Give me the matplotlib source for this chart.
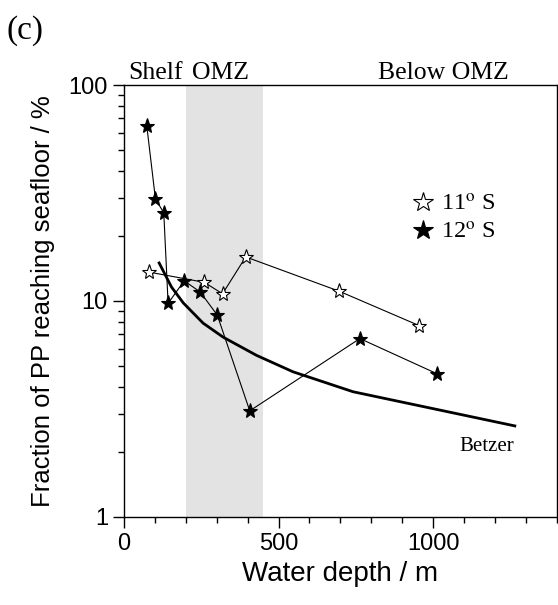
import matplotlib
matplotlib.use('Agg')
import matplotlib.pyplot as plt
from matplotlib.ticker import MultipleLocator, LogLocator, NullFormatter, FixedFormatter, FixedLocator

# data
depth_11S = [82, 260, 319, 394, 696, 954]
frac_11S = [13.6, 12.2, 10.8, 16.0, 11.1, 7.7]

depth_12S = [74, 102, 129, 143, 195, 247, 302, 407, 763, 1013]
frac_12S = [64.8, 29.7, 25.6, 9.75, 12.4, 11.0, 8.6, 3.1, 6.7, 4.6]

depth_betzer = [114, 154, 192, 256, 321, 429, 547, 741, 1264]
frac_betzer = [15.0, 11.6, 9.8, 7.9, 6.8, 5.6, 4.7, 3.8, 2.64]

omz_band = (200, 450)

serif = 'Liberation Serif'
sans = 'Liberation Sans'
plt.rcParams['font.family'] = sans
plt.rcParams['mathtext.fontset'] = 'stix'

fig = plt.figure(figsize=(5.58, 6.05), dpi=100)
ax = fig.add_axes([0.222, 0.1455, 0.776, 0.714])

ax.axvspan(omz_band[0], omz_band[1], color='#e3e3e3', lw=0, zorder=0)

ax.plot(depth_betzer, frac_betzer, color='black', lw=2.0, zorder=2)
ax.plot(depth_11S, frac_11S, color='black', lw=0.8, marker='*', ms=11,
        mfc='white', mec='black', mew=0.8, label=r'11$^{\mathrm{o}}$ S', zorder=3)
ax.plot(depth_12S, frac_12S, color='black', lw=0.8, marker='*', ms=11,
        mfc='black', mec='black', mew=0.8, label=r'12$^{\mathrm{o}}$ S', zorder=4)

ax.set_yscale('log')
ax.set_xlim(0, 1400)
ax.set_ylim(1, 100)

ax.xaxis.set_major_locator(FixedLocator([0, 500, 1000]))
ax.xaxis.set_minor_locator(MultipleLocator(100))
ax.yaxis.set_major_locator(FixedLocator([1, 10, 100]))
ax.yaxis.set_major_formatter(FixedFormatter(['1', '10', '100']))
ax.yaxis.set_minor_locator(LogLocator(base=10, subs=range(2, 10)))
ax.yaxis.set_minor_formatter(NullFormatter())

ax.tick_params(which='both', direction='out', top=False, right=False, labelsize=17, width=1)
ax.tick_params(which='major', length=8)
ax.tick_params(which='minor', length=4.5)
for s in ax.spines.values():
    s.set_linewidth(1)

ax.set_xlabel('Water depth / m', fontsize=20)
ax.set_ylabel('Fraction of PP reaching seafloor / %', fontsize=18.5, labelpad=10)

leg = ax.legend(loc='center left', bbox_to_anchor=(0.615, 0.69), frameon=False,
                handlelength=0.9, handletextpad=0.3, labelspacing=0.25, markerscale=1.35,
                prop={'family': serif, 'size': 17.5})
for h in leg.legend_handles:
    h.set_linestyle('none')

ax.text(1174, 2.13, 'Betzer', family=serif, fontsize=15, ha='center', va='center')

ax.text(0.073, 1.014, 'Shelf', family=serif, fontsize=18.5, ha='center', va='baseline', transform=ax.transAxes)
ax.text(0.223, 1.014, 'OMZ', family=serif, fontsize=18.5, ha='center', va='baseline', transform=ax.transAxes)
ax.text(0.737, 1.014, 'Below OMZ', family=serif, fontsize=18.5, ha='center', va='baseline', transform=ax.transAxes)

fig.text(0.012, 0.95, '(c)', family=serif, fontsize=24, ha='left', va='center')

fig.savefig('out.png', dpi=100)
